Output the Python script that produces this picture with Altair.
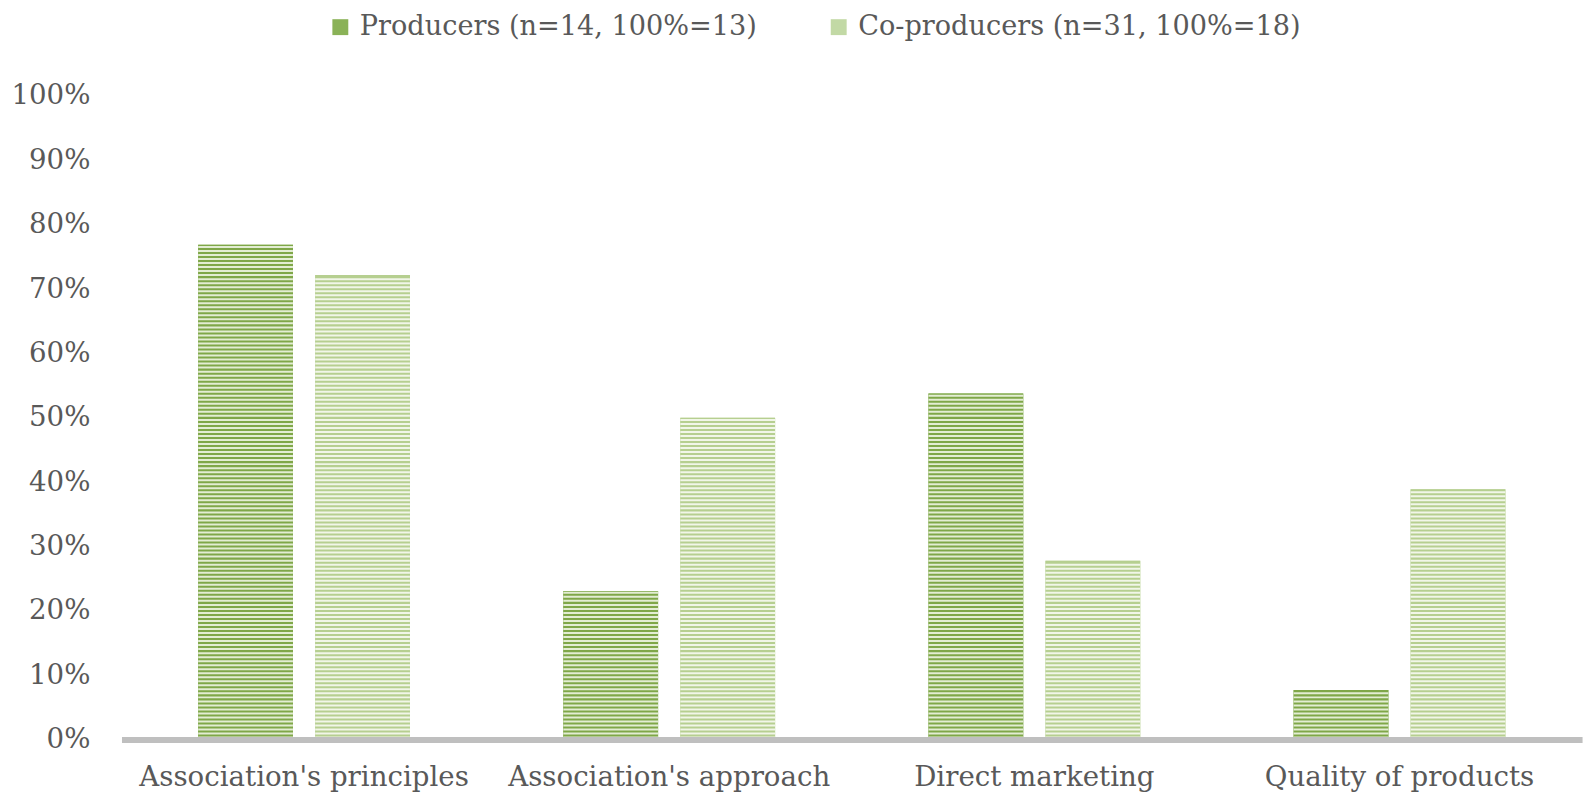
import altair as alt
import pandas as pd

categories = ["Association's principles", "Association's approach", "Direct marketing", "Quality of products"]
series = ["Producers (n=14, 100%=13)", "Co-producers (n=31, 100%=18)"]
producers = [0.769, 0.231, 0.538, 0.077]
coproducers = [0.722, 0.500, 0.278, 0.389]
y_ticks = [0, 0.1, 0.2, 0.3, 0.4, 0.5, 0.6, 0.7, 0.8, 0.9, 1.0]

rows = []
for c, p, q in zip(categories, producers, coproducers):
    rows.append({"category": c, "series": series[0], "value": p})
    rows.append({"category": c, "series": series[1], "value": q})
df = pd.DataFrame(rows)

dark = ["#7fa748", "#b6cf90"]
light = ["#e3edd3", "#f1f6e8"]
FONT = "DejaVu Serif"
TXT = "#595959"

x_enc = alt.X("category:N", sort=categories,
              scale=alt.Scale(paddingInner=0.42, paddingOuter=0.21),
              axis=alt.Axis(title=None, labelAngle=0, labelFontSize=28, labelFont=FONT,
                            labelColor=TXT, labelPadding=25, ticks=False, labelLimit=0,
                            domainColor="#bfbfbf", domainWidth=6, zindex=1))
xo = alt.XOffset("series:N", sort=series, scale=alt.Scale(paddingInner=0.19))

bars = alt.Chart(df).mark_bar().encode(
    x=x_enc,
    xOffset=xo,
    y=alt.Y("value:Q", scale=alt.Scale(domain=[0, 1]),
            axis=alt.Axis(title=None, values=y_ticks, format=".0%", grid=False,
                          domain=False, ticks=False, labelFontSize=28, labelFont=FONT,
                          labelColor=TXT, labelPadding=32)),
    color=alt.Color("series:N", sort=series,
                    scale=alt.Scale(domain=series, range=["#8ab257", "#c2d9a5"]),
                    legend=alt.Legend(title=None, orient="none", legendX=208, legendY=-84,
                                      direction="horizontal", columns=2, columnPadding=68,
                                      symbolType="square", symbolSize=260, symbolStrokeWidth=0,
                                      labelFontSize=27.5, labelFont=FONT, labelColor=TXT,
                                      labelLimit=0, symbolOffset=0, labelOffset=6)),
)

base_dark = alt.Chart(df).mark_bar().encode(
    x=alt.X("category:N", sort=categories),
    xOffset=xo,
    y="value:Q",
    color=alt.Color("series:N", sort=series, scale=alt.Scale(domain=series, range=dark), legend=None),
)

stripes = alt.Chart(df).transform_calculate(
    levels="sequence(0.0015, datum.value - 0.002, 0.00625)"
).transform_flatten(["levels"]).transform_calculate(
    top="datum.levels + 0.0031"
).mark_bar().encode(
    x=alt.X("category:N", sort=categories),
    xOffset=xo,
    y="levels:Q",
    y2="top:Q",
    color=alt.Color("series:N", sort=series, scale=alt.Scale(domain=series, range=light), legend=None),
)

chart = alt.layer(bars, base_dark, stripes).resolve_scale(color="independent").configure_view(
    stroke=None
).properties(
    width=1480, height=652,
    padding={"left": 2, "top": 0, "right": 5, "bottom": 5},
)

chart.save("out.html", embed_options={"renderer": "svg", "actions": False})
